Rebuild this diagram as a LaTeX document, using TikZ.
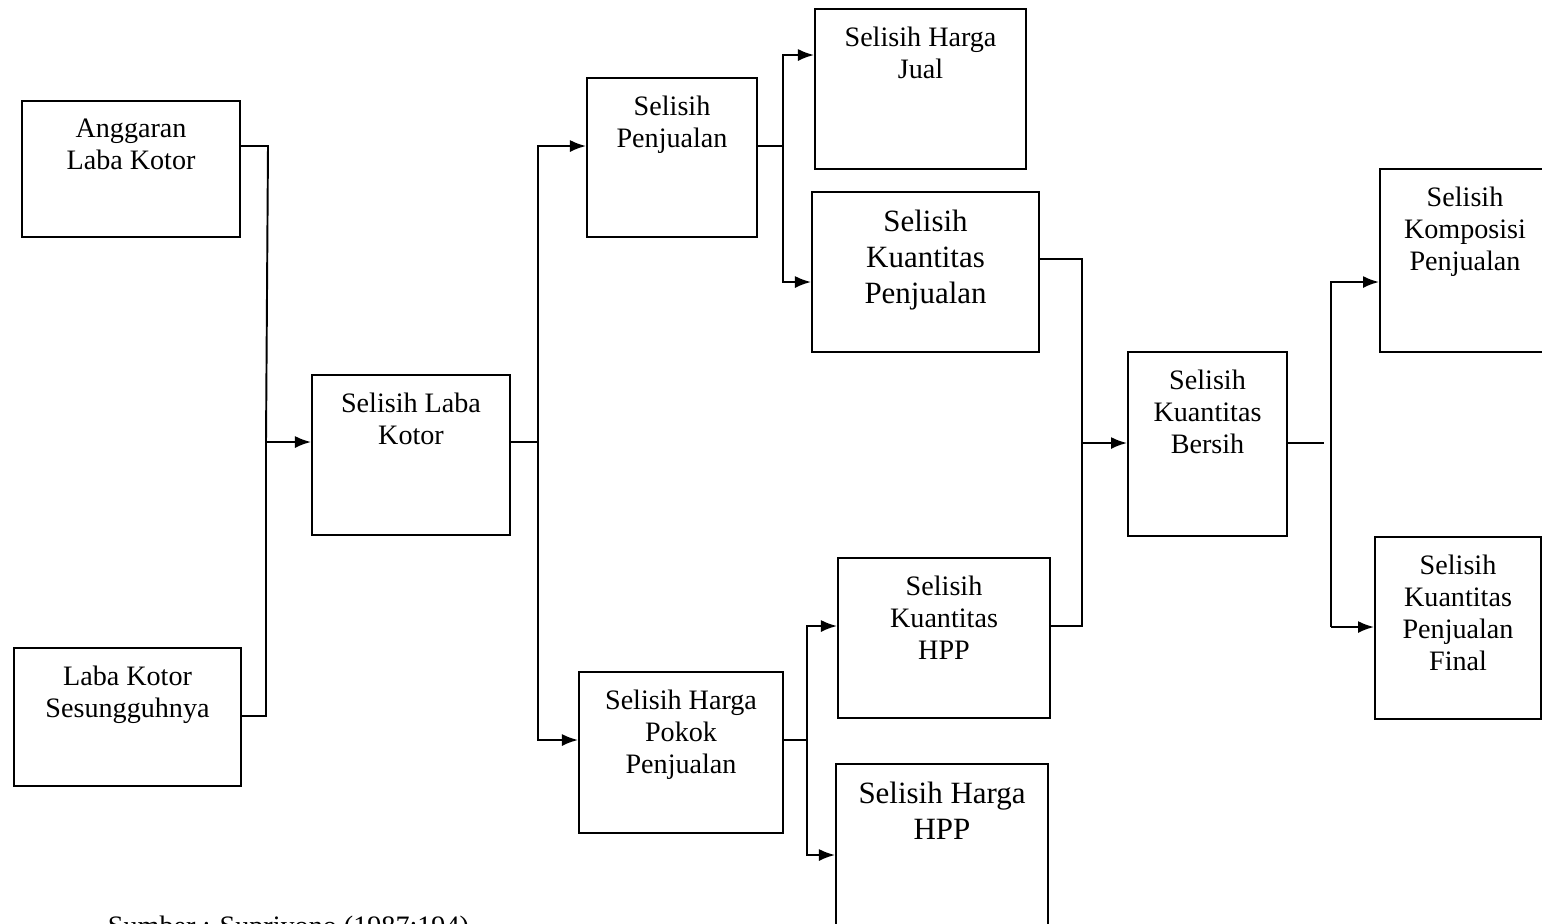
\documentclass[tikz,border=0pt]{standalone}
\usepackage{fontspec}
\setmainfont{Liberation Serif}
\usetikzlibrary{arrows.meta}
\newcommand{\isi}[3]{\parbox[c][#2][t]{#1}{\centering\vspace*{1.8mm}#3}}

\begin{document}
\begin{tikzpicture}[x=0.01cm, y=-0.01cm, >={Latex[length=1.6mm,width=1.2mm]}, line width=0.55pt]
    % gaya kotak
    \tikzstyle{kotak}=[draw, rectangle, inner sep=0pt, anchor=north west, font=\fontsize{8}{9.1}\selectfont]
    \tikzstyle{kotakbesar}=[kotak, font=\fontsize{8.8}{10.2}\selectfont]

    \useasboundingbox (0,0) rectangle (1542,923);

    % posisi kotak
    \node[kotak] (agr) at (21,100) {\isi{2.18cm}{1.36cm}{Anggaran\\Laba Kotor}};
    \node[kotak] (lks) at (13,647) {\isi{2.27cm}{1.38cm}{Laba Kotor\\Sesungguhnya}};
    \node[kotak] (slk) at (311,374) {\isi{1.98cm}{1.60cm}{Selisih Laba\\Kotor}};
    \node[kotak] (sp) at (586,77) {\isi{1.70cm}{1.59cm}{Selisih\\Penjualan}};
    \node[kotak] (shpp) at (578,671) {\isi{2.04cm}{1.61cm}{Selisih Harga\\Pokok\\Penjualan}};
    \node[kotak] (shj) at (814,8) {\isi{2.11cm}{1.60cm}{Selisih Harga\\Jual}};
    \node[kotakbesar] (skp) at (811,191) {\isi{2.27cm}{1.60cm}{Selisih\\Kuantitas\\Penjualan}};
    \node[kotak] (skh) at (837,557) {\isi{2.12cm}{1.60cm}{Selisih\\Kuantitas\\HPP}};
    \node[kotakbesar] (shh) at (835,763) {\isi{2.12cm}{1.90cm}{Selisih Harga\\HPP}};
    \node[kotak] (skb) at (1127,351) {\isi{1.59cm}{1.84cm}{Selisih\\Kuantitas\\Bersih}};
    \node[kotak] (skomp) at (1379,168) {\isi{1.70cm}{1.83cm}{Selisih\\Komposisi\\Penjualan}};
    \node[kotak] (skpf) at (1374,536) {\isi{1.66cm}{1.82cm}{Selisih\\Kuantitas\\Penjualan\\Final}};

    % sumber
    \node[anchor=base west, inner sep=0pt, font=\fontsize{8}{9.1}\selectfont] (sumber) at (107,935) {Sumber : Supriyono (1987:194)};

    % titik cabang
    \coordinate (j1a) at (268,146);
    \coordinate (j1b) at (266,716);
    \coordinate (j1) at (266,442);
    \coordinate (j2) at (538,442);
    \coordinate (j2t) at (538,146);
    \coordinate (j2b) at (538,740);
    \coordinate (j3) at (783,146);
    \coordinate (j3t) at (783,55);
    \coordinate (j3b) at (783,282);
    \coordinate (j4) at (807,740);
    \coordinate (j4t) at (807,626);
    \coordinate (j4b) at (807,855);
    \coordinate (j5) at (1082,443);
    \coordinate (j5t) at (1082,259);
    \coordinate (j5b) at (1082,626);
    \coordinate (s6) at (1324,443);
    \coordinate (j6t) at (1331,282);
    \coordinate (j6b) at (1331,627);

    % panah
    \draw (agr.east |- j1a) -- (j1a) -- (j1);
    \draw (lks.east |- j1b) -- (j1b) -- (j1);
    \draw[->] (j1) -- (slk.west |- j1);
    \draw (slk.east |- j2) -- (j2);
    \draw[->] (j2) -- (j2t) -- (sp.west |- j2t);
    \draw[->] (j2) -- (j2b) -- (shpp.west |- j2b);
    \draw (sp.east |- j3) -- (j3);
    \draw[->] (j3) -- (j3t) -- (shj.west |- j3t);
    \draw[->] (j3) -- (j3b) -- (skp.west |- j3b);
    \draw (shpp.east |- j4) -- (j4);
    \draw[->] (j4) -- (j4t) -- (skh.west |- j4t);
    \draw[->] (j4) -- (j4b) -- (shh.west |- j4b);
    \draw (skp.east |- j5t) -- (j5t) -- (j5);
    \draw (skh.east |- j5b) -- (j5b) -- (j5);
    \draw[->] (j5) -- (skb.west |- j5);
    \draw (skb.east |- s6) -- (s6);
    \draw[->] (j6b) -- (j6t) -- (skomp.west |- j6t);
    \draw[->] (j6b) -- (skpf.west |- j6b);
\end{tikzpicture}
\end{document}
